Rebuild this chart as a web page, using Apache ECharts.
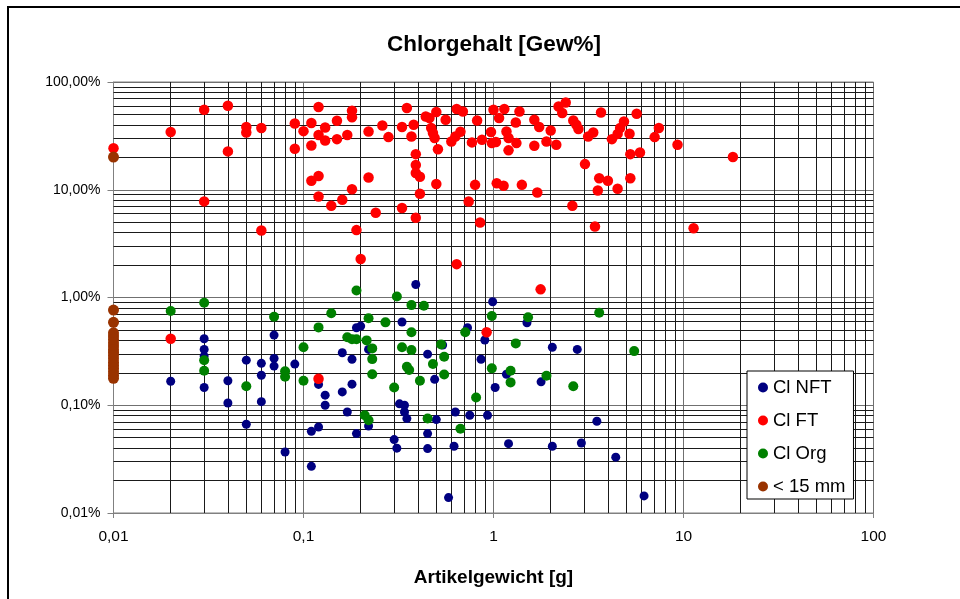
<!DOCTYPE html>
<html><head><meta charset="utf-8">
<script src="https://cdn.jsdelivr.net/npm/echarts@6/dist/echarts.min.js"></script>
<style>html,body{margin:0;padding:0;background:#fff;overflow:hidden}#c{width:960px;height:599px}</style>
</head><body><div id="c"></div>
<script>
const chartTitle = 'Chlorgehalt [Gew%]';
const xAxisName = 'Artikelgewicht [g]';
const seriesNames = ['Cl NFT', 'Cl FT', 'Cl Org', '< 15 mm'];
const seriesColors = ['#000080', '#FF0000', '#008000', '#993300'];

// Cl NFT  (x: Artikelgewicht g, y: Chlorgehalt %)
const nftX = [0.03,0.03,0.03,0.02,0.03,0.04,0.04,0.05,0.05,0.06,0.06,0.06,0.07,0.07,0.07,0.08,0.09,0.11,0.12,0.11,
  0.12,0.13,0.13,0.16,0.16,0.17,0.18,0.18,0.19,0.19,0.2,0.22,0.22,0.33,0.39,0.32,0.34,0.34,0.35,0.3,
  0.31,0.45,0.49,0.54,0.45,0.45,0.5,0.63,0.62,0.58,0.73,0.75,0.86,0.9,0.93,0.99,1.02,1.17,1.5,1.2,
  1.78,2.04,2.04,2.76,2.9,3.5,4.4,6.2];
const nftY = [0.414,0.33,0.286,0.167,0.146,0.169,0.105,0.262,0.0666,0.245,0.19,0.108,0.448,0.272,0.231,0.0368,0.241,0.0573,0.0628,0.0271,
  0.156,0.124,0.1,0.307,0.133,0.0866,0.267,0.157,0.524,0.0546,0.543,0.33,0.0642,0.592,1.32,0.103,0.1,0.0866,0.0752,0.048,
  0.04,0.298,0.174,0.362,0.0546,0.0396,0.0736,0.0866,0.0416,0.0139,0.524,0.0807,0.267,0.403,0.0807,0.914,0.146,0.194,0.583,0.044,
  0.165,0.345,0.0416,0.33,0.0446,0.071,0.033,0.0144];

// Cl FT
const ftX = [0.01,0.02,0.03,0.03,0.04,0.04,0.05,0.05,0.06,0.06,0.09,0.09,0.1,0.11,0.11,0.11,0.12,0.12,0.12,0.12,
  0.13,0.13,0.14,0.15,0.15,0.16,0.17,0.18,0.18,0.18,0.19,0.2,0.22,0.22,0.26,0.28,0.24,0.33,0.35,0.33,
  0.37,0.38,0.39,0.39,0.39,0.41,0.41,0.39,0.44,0.46,0.5,0.47,0.48,0.49,0.51,0.5,0.56,0.64,0.69,0.6,
  0.63,0.67,0.64,0.77,0.82,0.8,0.74,0.85,0.87,0.97,0.98,1.03,1.0,1.07,1.14,1.17,1.2,1.2,1.32,1.31,
  1.37,1.04,1.13,1.41,1.7,1.64,1.74,1.64,1.9,2.0,2.14,2.2,2.3,2.4,2.63,2.73,2.8,3.03,2.6,3.15,
  3.35,3.42,3.54,3.6,4.0,3.68,4.2,4.5,4.5,5.67,4.86,4.64,5.2,5.25,5.9,7.42,7.05,9.3,18.2,5.25,
  11.3,1.77,0.92,0.02,0.12];
const ftY = [24.3,34.3,55.3,7.8,60.2,22.7,38.2,34.0,37.4,4.18,41.2,24.0,35.0,41.6,25.7,12.1,58.6,32.2,13.4,8.66,
  37.8,28.7,7.1,43.7,29.5,8.07,32.2,54.2,47.1,10.1,4.22,2.28,34.7,13.0,39.5,30.8,6.11,38.2,57.3,6.76,
  31.2,40.1,21.4,17.0,14.3,13.2,9.18,5.49,47.9,46.3,52.6,37.4,33.6,30.2,23.8,11.3,44.6,56.1,53.3,28.0,
  31.2,34.5,2.04,27.5,44.0,11.1,7.78,4.97,29.1,34.3,27.1,27.7,55.3,46.3,56.1,34.7,30.2,23.2,27.1,42.1,
  53.3,11.5,10.9,11.1,9.44,44.6,38.2,25.6,28.0,35.5,26.2,59.3,51.5,64.6,44.0,40.1,36.6,17.3,7.1,31.2,
  34.0,4.56,9.85,12.8,12.1,52.2,29.5,33.0,10.2,50.8,43.0,37.4,33.1,21.4,22.2,37.4,30.8,26.2,20.1,12.8,
  4.4,1.19,0.475,0.414,0.176];

// Cl Org
const orgX = [0.02,0.03,0.03,0.03,0.05,0.07,0.08,0.08,0.1,0.1,0.12,0.14,0.19,0.17,0.18,0.19,0.215,0.23,0.22,0.23,
  0.23,0.21,0.22,0.27,0.31,0.37,0.43,0.33,0.37,0.37,0.35,0.36,0.41,0.3,0.45,0.48,0.53,0.55,0.55,0.71,
  0.81,0.67,0.98,0.98,1.31,1.23,1.23,1.52,1.9,2.63,3.6,5.5];
const orgY = [0.749,0.895,0.262,0.209,0.15,0.663,0.207,0.184,0.345,0.169,0.528,0.713,1.16,0.427,0.409,0.409,0.4,0.337,0.641,0.268,
  0.194,0.0807,0.0726,0.588,1.02,0.85,0.839,0.345,0.325,0.475,0.228,0.212,0.169,0.146,0.0752,0.241,0.367,0.282,0.193,0.475,
  0.118,0.0606,0.673,0.22,0.375,0.209,0.163,0.655,0.188,0.15,0.722,0.318];

// < 15 mm
const smallX = [0.01,0.01,0.01,0.01,0.01,0.01,0.01,0.01,0.01,0.01,0.01,0.01,0.01,0.01,0.01,0.01,0.01,0.01];
const smallY = [20.1,0.765,0.588,0.47,0.44,0.41,0.38,0.355,0.33,0.31,0.29,0.27,0.25,0.235,0.22,0.205,0.19,0.178];

const xTickValues = [0.01, 0.1, 1, 10, 100];
const yTickValues = [0.01, 0.1, 1, 10, 100];

function pairs(xs, ys) { return xs.map((x, i) => [x, ys[i]]); }

// minor log grid lines (2..9 within each decade)
const minorX = [], minorY = [];
for (let d = 0; d < xTickValues.length - 1; d++) for (let k = 2; k <= 9; k++) minorX.push(Number((xTickValues[d] * k).toPrecision(3)));
for (let d = 0; d < yTickValues.length - 1; d++) for (let k = 2; k <= 9; k++) minorY.push(Number((yTickValues[d] * k).toPrecision(3)));

const font = '"Liberation Sans", Arial, sans-serif';
const chart = echarts.init(document.getElementById('c'), null, { renderer: 'canvas' });

const symSizes = [9, 10.5, 10, 11];
const dataSets = [pairs(nftX, nftY), pairs(ftX, ftY), pairs(orgX, orgY), pairs(smallX, smallY)];

const series = dataSets.map((d, i) => ({
  name: seriesNames[i], type: 'scatter', data: d, symbol: 'circle', symbolSize: symSizes[i],
  itemStyle: { color: seriesColors[i], opacity: 1 }, z: 3 + i, animation: false, silent: true
}));
series.unshift({
  name: 'grid', type: 'scatter', data: [], z: 1, silent: true, animation: false,
  markLine: {
    silent: true, symbol: ['none', 'none'], animation: false, z: 1,
    label: { show: false },
    lineStyle: { color: '#1a1a1a', type: 'solid', width: 1 },
    data: minorX.map(v => ({ xAxis: v })).concat(minorY.map(v => ({ yAxis: v })))
  }
});

chart.setOption({
  backgroundColor: '#fff',
  animation: false,
  title: {
    text: chartTitle, left: 489, top: 28, textAlign: 'center',
    textStyle: { fontFamily: font, fontSize: 22.5, fontWeight: 'bold', color: '#000' }
  },
  grid: { left: 113.5, top: 82, width: 760, height: 431, show: true, borderColor: '#808080', borderWidth: 1, backgroundColor: 'transparent' },
  legend: {
    data: seriesNames, orient: 'vertical', left: 747, top: 371,
    icon: 'circle', itemWidth: 10, itemHeight: 10, itemGap: 14,
    padding: [7, 8, 3, 11], borderColor: '#000', borderWidth: 1, backgroundColor: '#fff',
    textStyle: { fontFamily: font, fontSize: 18.5, lineHeight: 19, color: '#000', padding: [0, 0, 0, 0] },
    selectedMode: false, z: 10
  },
  xAxis: {
    type: 'log', logBase: 10, min: 0.01, max: 100,
    name: xAxisName, nameLocation: 'middle', nameGap: 55,
    nameTextStyle: { fontFamily: font, fontSize: 19, fontWeight: 'bold', color: '#000' },
    axisLine: { show: true, lineStyle: { color: '#808080', width: 1 } },
    axisTick: { show: true, length: 5, lineStyle: { color: '#808080' } },
    axisLabel: { fontFamily: font, fontSize: 15.5, color: '#000', margin: 16,
      formatter: v => String(Number(v.toPrecision(6))).replace('.', ',') },
    splitLine: { show: true, lineStyle: { color: '#707070', width: 1 } }
  },
  yAxis: {
    type: 'log', logBase: 10, min: 0.01, max: 100,
    axisLine: { show: true, lineStyle: { color: '#808080', width: 1 } },
    axisTick: { show: true, length: 6, lineStyle: { color: '#808080' } },
    axisLabel: { fontFamily: font, fontSize: 14, color: '#000', margin: 13,
      formatter: v => Number(v.toPrecision(6)).toFixed(2).replace('.', ',') + '%' },
    splitLine: { show: true, lineStyle: { color: '#707070', width: 1 } }
  },
  graphic: [{
    type: 'rect', shape: { x: 8, y: 7, width: 1000, height: 1000 },
    style: { fill: 'none', stroke: '#000', lineWidth: 2 }, z: 100, silent: true
  }],
  series: series
});
</script></body></html>
